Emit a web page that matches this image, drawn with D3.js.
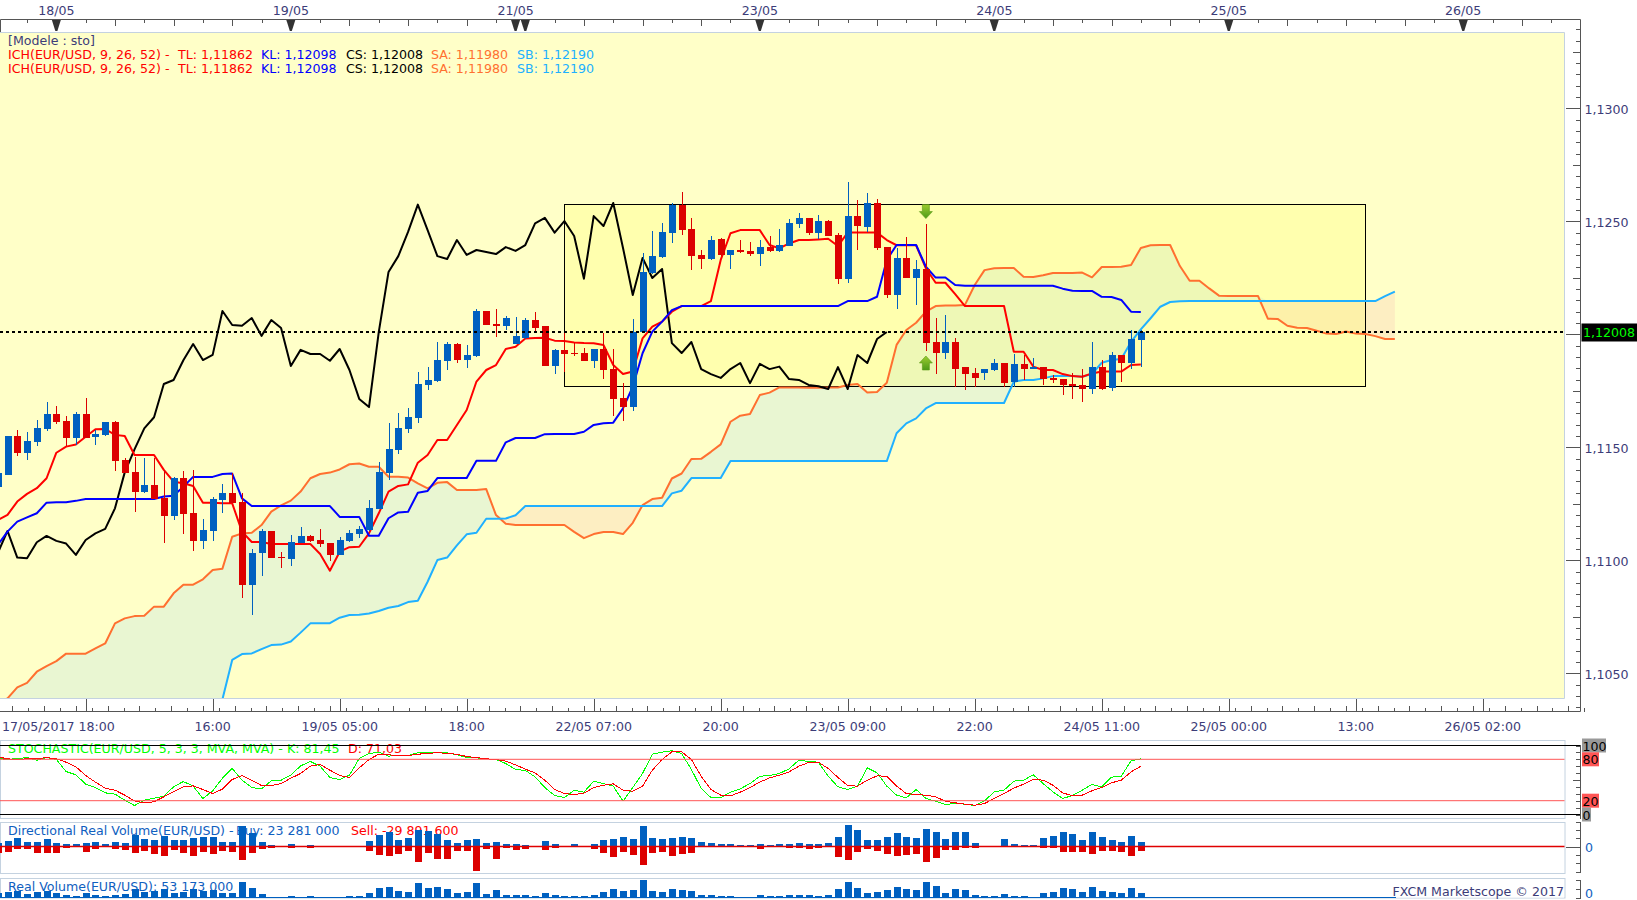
<!DOCTYPE html>
<html><head><meta charset="utf-8">
<script src="https://cdn.jsdelivr.net/npm/d3@7/dist/d3.min.js"></script>
<style>
html,body{margin:0;padding:0;background:#fff;overflow:hidden}
svg{display:block}
text{font-family:"DejaVu Sans",sans-serif;font-size:12.6px}
</style></head><body><svg id="c" width="1637" height="900"></svg>
<script>
// All prices in points (1e-5). Arrays of bars start at bar index -1.
const firstBar = -1;
const opens = [111326,111378,111550,111476,111525,111581,111646,111615,111543,111648,111547,111555,111611,111444,111389,111304,111332,111274,111198,111363,111208,111087,111131,111267,111296,111257,110892,111031,111130,111015,111007,111075,111108,111090,111077,111024,111086,111117,111134,111227,111388,111488,111581,111630,111776,111794,111884,111957,111886,111904,112103,112046,112037,111957,111984,112063,112037,111860,111930,111919,111917,111883,111935,111846,111718,111680,112010,112270,112341,112450,112574,112466,112351,112333,112422,112351,112372,112369,112355,112386,112369,112392,112490,112515,112448,112501,112439,112246,112523,112475,112579,112385,112174,112338,112249,112289,111966,111917,111966,111855,111829,111829,111842,111873,111789,111869,111846,111855,111807,111802,111780,111776,111758,111855,111764,111908,111873,111975];
const highs = [111429,111550,111577,111566,111621,111699,111683,111639,111655,111717,111577,111614,111617,111451,111459,111453,111451,111400,111370,111395,111400,111183,111282,111338,111385,111299,111050,111137,111130,111035,111112,111146,111112,111139,111078,111102,111134,111152,111267,111434,111606,111650,111673,111832,111854,111966,111966,111963,111953,112111,112103,112111,112081,112075,112071,112097,112037,111934,112004,111960,111938,111935,112007,111935,111783,112068,112358,112457,112491,112579,112628,112515,112373,112435,112425,112373,112417,112410,112417,112435,112464,112509,112535,112515,112528,112506,112447,112672,112594,112625,112599,112388,112380,112432,112329,112488,112072,112085,111982,111855,111849,111846,111891,111873,111913,111908,111894,111857,111820,111802,111827,111845,111966,111886,111923,111908,112019,112019];
const lows = [111304,111378,111463,111444,111507,111572,111603,111507,111510,111543,111510,111552,111395,111385,111215,111296,111271,111078,111178,111117,111043,111050,111087,111211,111252,110835,110758,110931,111012,110968,110976,111075,111083,111058,110997,111022,111083,111100,111131,111226,111355,111471,111562,111609,111754,111791,111842,111875,111853,111898,112041,111987,112019,111957,111981,112009,111860,111825,111835,111905,111882,111852,111802,111638,111618,111662,112004,112267,112339,112405,112439,112284,112289,112329,112346,112289,112358,112346,112302,112366,112366,112391,112470,112439,112422,112435,112223,112228,112373,112453,112373,112161,112112,112249,112130,111926,111824,111891,111768,111753,111768,111798,111838,111768,111768,111798,111846,111776,111784,111731,111715,111702,111736,111753,111749,111789,111846,111855];
const closes = [111385,111550,111476,111528,111584,111646,111614,111543,111648,111543,111559,111611,111441,111388,111304,111333,111271,111198,111364,111207,111087,111134,111270,111296,111255,110892,111031,111130,111012,111009,111080,111108,111086,111074,111024,111090,111119,111139,111230,111389,111491,111584,111633,111780,111798,111885,111957,111886,111909,112103,112041,112038,112072,111993,112063,112028,111860,111931,111913,111913,111883,111935,111842,111714,111678,112010,112276,112346,112453,112574,112461,112346,112333,112417,112351,112373,112364,112355,112386,112369,112395,112491,112515,112450,112501,112435,112246,112523,112479,112581,112382,112174,112338,112249,112289,111961,111917,111966,111846,111824,111807,111846,111873,111784,111869,111846,111857,111802,111798,111776,111770,111758,111855,111758,111908,111873,111979,112010];
const tenkan = [111178,111201,111260,111294,111319,111363,111476,111503,111512,111547,111580,111581,111555,111550,111466,111466,111466,111400,111348,111341,111329,111255,111255,111252,111252,111127,111081,111081,111072,111072,111072,111072,111072,111028,110954,111038,111058,111060,111119,111208,111304,111329,111336,111432,111466,111532,111532,111599,111665,111791,111842,111864,111935,111945,111981,111984,111985,111972,111970,111964,111961,111960,111953,111864,111824,111835,111982,112034,112056,112100,112125,112125,112125,112147,112329,112447,112461,112461,112461,112395,112380,112402,112417,112417,112420,112423,112391,112450,112450,112450,112450,112417,112394,112394,112394,112292,112228,112228,112178,112125,112125,112125,112125,112125,111923,111923,111857,111842,111842,111824,111815,111812,111827,111835,111835,111835,111864,111866];
const kijun = [111068,111127,111171,111190,111208,111255,111257,111257,111263,111271,111271,111271,111271,111271,111271,111271,111271,111282,111286,111326,111369,111369,111369,111382,111384,111274,111240,111240,111240,111240,111240,111240,111240,111240,111240,111192,111192,111192,111109,111109,111186,111212,111215,111299,111307,111364,111364,111364,111364,111440,111440,111440,111522,111541,111541,111541,111558,111559,111559,111559,111569,111599,111606,111609,111672,111768,111916,112012,112056,112107,112125,112125,112125,112125,112125,112125,112125,112125,112125,112125,112125,112125,112125,112125,112125,112125,112125,112147,112147,112147,112166,112329,112395,112395,112395,112299,112251,112251,112218,112215,112215,112215,112215,112215,112215,112215,112215,112215,112215,112202,112193,112192,112192,112166,112165,112152,112100,112099];
// Lagging span: bars -1 .. 90
const chikou = [111031,111130,111012,111009,111080,111108,111086,111074,111024,111090,111119,111139,111230,111389,111491,111584,111633,111780,111798,111885,111957,111886,111909,112103,112041,112038,112072,111993,112063,112028,111860,111931,111913,111913,111883,111935,111842,111714,111678,112010,112276,112346,112453,112574,112461,112346,112333,112417,112351,112373,112364,112355,112386,112369,112395,112491,112515,112450,112501,112435,112246,112523,112479,112581,112382,112174,112338,112249,112289,111961,111917,111966,111846,111824,111807,111846,111873,111784,111869,111846,111857,111802,111798,111776,111770,111758,111855,111758,111908,111873,111979,112010];
// Span A: bars -1 .. 142
const spanA = [110360,110389,110438,110458,110507,110532,110554,110587,110587,110587,110610,110632,110721,110743,110753,110755,110795,110795,110854,110892,110892,110916,110957,110963,111104,111119,111122,111156,111215,111243,111264,111304,111363,111382,111388,111402,111425,111428,111414,111414,111370,111370,111366,111340,111318,111343,111346,111311,111311,111311,111315,111200,111162,111156,111156,111156,111156,111156,111156,111126,111098,111116,111125,111125,111116,111166,111244,111271,111277,111362,111384,111448,111449,111480,111513,111613,111640,111647,111731,111742,111765,111765,111765,111764,111764,111765,111765,111776,111780,111742,111745,111786,111953,112019,112051,112100,112125,112127,112127,112130,112218,112284,112292,112293,112293,112255,112254,112261,112271,112271,112271,112273,112252,112298,112298,112299,112307,112382,112394,112395,112395,112302,112237,112237,112203,112171,112169,112169,112169,112169,112069,112068,112038,112029,112028,112016,112003,112001,112012,112003,112001,111992,111979,111979];
// Span B: bars 22 .. 142
const spanBFirst = 22;
const spanB = [110385,110559,110585,110588,110607,110625,110627,110641,110680,110721,110722,110722,110746,110758,110759,110765,110776,110790,110798,110815,110821,110905,111001,111012,111066,111115,111122,111184,111184,111185,111199,111240,111240,111240,111240,111240,111240,111240,111240,111240,111240,111240,111240,111240,111240,111240,111296,111308,111364,111364,111364,111364,111439,111439,111439,111439,111439,111439,111439,111439,111439,111439,111439,111439,111439,111439,111439,111439,111439,111562,111606,111628,111672,111696,111696,111696,111696,111696,111696,111696,111696,111790,111798,111798,111805,111815,111815,111815,111812,111824,111874,111886,111891,111967,112022,112071,112122,112143,112146,112147,112147,112147,112147,112147,112147,112147,112147,112147,112147,112147,112147,112147,112147,112147,112147,112147,112147,112147,112147,112169,112189];
const stochK = [80.7,80.2,80.7,82.6,78.7,82.6,79.7,62.3,57.5,44,39.1,31.4,29.5,20.8,13,20.8,23.7,26.6,40.1,47.8,41.1,23.2,34.3,52.6,66.7,49.7,39.1,37.2,48.8,49.7,57,70.5,76.8,70,53.6,50.7,57,81.1,88.4,90.3,84.5,86,85.5,89.4,90.3,90.3,89.4,86.5,82.6,82.1,80.7,79.7,73.9,65.2,63.8,54.6,39.1,27.5,24.6,35.3,32.4,48.3,44.9,41.1,19.3,39.1,59.4,87.4,90.3,92.3,88.4,65.2,37.7,24.6,24.6,32.4,37.2,44.9,55.5,56.5,59.4,66.2,78.7,76.8,75.8,55.5,40.1,36.2,41.1,67.6,60.4,41.1,28,24.2,36.2,23.2,19.3,14.5,15.9,15,13,19.8,32.8,35.3,48.3,49.7,57.5,44.9,32.8,23.2,27.5,35.3,43.5,40.1,54.1,55.5,77.8,80.7];
const stochD = [83.6,80.7,79.7,80.7,80.7,82.6,80.7,75.8,69.1,56.5,46.9,38.2,35.3,28,19.8,16.9,18.4,25.6,33.3,40.1,41.5,36.2,30.4,36.7,50.7,56.5,49.7,42,42,44.9,52.6,59.4,70,72.5,64.2,56.5,53.6,67.6,79.7,87.4,86.5,85.5,85.5,87.4,88.4,89.8,88.4,87.4,84,82.6,80.7,79.7,77.3,72,65.7,60.4,49.7,36.2,30.4,29,30.9,39.1,42.5,44.4,35.3,33.8,41.1,64.2,79.7,90.8,90.8,79.7,55.5,36.2,28,27,32.4,39.1,46.9,53.1,57,61.8,70,75.3,75.8,66.7,53.6,42,41.1,49.7,56,55.5,41.1,30.4,29,28,25.6,19.3,16.9,15,13.5,15.9,23.2,30.4,38.2,44,51.2,49.7,42.5,31.4,27,28,34.3,39.1,45.9,49.7,61.8,70];
// Volumes in millions
const buyVol = [22,32,50,26,26,44,20,14,14,20,26,14,26,20,68,44,38,62,38,38,50,56,56,26,26,122,80,26,8,6,14,6,8,6,6,6,6,6,32,68,86,38,50,98,92,74,38,20,38,44,20,26,14,14,8,6,32,14,6,14,6,14,38,44,56,44,122,50,44,50,56,50,26,20,14,14,8,8,14,8,14,14,20,14,14,20,56,128,98,38,38,56,80,56,50,104,86,44,86,86,20,6,6,44,14,8,8,50,62,86,74,38,86,56,38,26,62,26];
const sellVol = [40,32,14,12,40,40,40,10,4,34,16,4,16,22,40,28,46,58,22,40,58,34,46,28,34,82,40,16,8,4,8,4,10,4,4,4,4,4,28,52,58,46,28,94,40,76,76,28,28,148,16,76,10,22,16,4,22,10,4,4,4,16,40,64,34,52,112,40,34,58,46,40,4,4,4,4,4,4,16,4,4,10,10,16,10,4,64,82,34,16,28,46,58,52,46,94,70,22,22,10,10,4,4,4,4,4,4,10,10,34,34,34,46,28,28,34,58,28];
const realVol = [53.2,64.6,76,41.8,64.6,76,53.2,30.4,19,53.2,30.4,19,30.4,41.8,98.8,64.6,76,98.8,53.2,64.6,98.8,76,87.4,53.2,53.2,178.6,110.2,41.8,7.6,7.6,19,7.6,19,7.6,7.6,7.6,19,19,53.2,110.2,121.6,76,64.6,167.2,110.2,121.6,98.8,53.2,64.6,167.2,41.8,87.4,30.4,30.4,30.4,19,53.2,30.4,19,19,19,30.4,64.6,98.8,76,87.4,201.4,76,64.6,98.8,87.4,76,30.4,30.4,19,19,7.6,7.6,30.4,19,19,30.4,30.4,30.4,19,30.4,98.8,178.6,110.2,53.2,64.6,87.4,121.6,98.8,87.4,178.6,133,53.2,98.8,87.4,30.4,19,19,41.8,19,19,7.6,53.2,64.6,110.2,98.8,64.6,121.6,76,64.6,53.2,110.2,53.2];
const dayFlags = [[5,"18/05"],[29,"19/05"],[52,"21/05"],[53,""],[77,"23/05"],[101,"24/05"],[125,"25/05"],[149,"26/05"]];
const timeLabels = [[8,"17/05/2017 18:00"],[21,"16:00"],[34,"19/05 05:00"],[47,"18:00"],[60,"22/05 07:00"],[73,"20:00"],[86,"23/05 09:00"],[99,"22:00"],[112,"24/05 11:00"],[125,"25/05 00:00"],[138,"13:00"],[151,"26/05 02:00"]];
const priceLabels = [113000,112500,112000,111500,111000,110500];
const lastPrice = 112008;
const boxBars = [57,139], boxPrices = [111770,112575];
const arrowDown = {bar:94,tip:112512}, arrowUp = {bar:94,tip:111904};
const legendItems = [["ICH(EUR/USD, 9, 26, 52) -","#f00",8],["TL: 1,11862","#f00",178],["KL: 1,12098","#00f",261],["CS: 1,12008","#000",346],["SA: 1,11980","#ff7030",431],["SB: 1,12190","#20b0ff",517]];

const W=1637,H=900,plotR=1564.5,axisX=1580.5,plotT=32.5,plotB=698.5;
const svg=d3.select("#c");
const x=d3.scaleLinear().domain([0,116]).range([7.5,1140.82]);
const y=d3.scaleLinear().domain([111500,112500]).range([447.3,221.3]);
const ink="#3c3c78", pale="#c4d2e0", axC="#555";
const bars=closes.map((c,k)=>({i:k+firstBar,o:opens[k],h:highs[k],l:lows[k],c}));
const defs=svg.append("defs");
function clip(id,x0,y0,w,h){defs.append("clipPath").attr("id",id).append("rect").attr("x",x0).attr("y",y0).attr("width",w).attr("height",h);}
clip("main",0,plotT,plotR,plotB-plotT);
clip("stoch",0,740,plotR,78);
clip("dir",0,822,plotR,52);
clip("vol",0,878,plotR,20);
const gradG=defs.append("linearGradient").attr("id","ag").attr("x1",0).attr("x2",0).attr("y1",0).attr("y2",1);
gradG.append("stop").attr("offset",0).attr("stop-color","#9ccc30");gradG.append("stop").attr("offset",1).attr("stop-color","#4d9a18");

// main background
svg.append("rect").attr("x",0).attr("y",plotT).attr("width",plotR).attr("height",plotB-plotT).attr("fill","#ffffc8");
const m=svg.append("g").attr("clip-path","url(#main)");
// cloud
const cloud=spanA.map((a,k)=>{const i=k-1;const j=i-spanBFirst;return {i,a,b:j>=0?spanB[j]:y.invert(plotB+40)};});
m.append("path").datum(cloud).attr("fill","#e9f6d2").attr("d",d3.area().x(d=>x(d.i)).y0(d=>y(d.b)).y1(d=>y(Math.max(d.a,d.b))));
m.append("path").datum(cloud).attr("fill","#fdeec2").attr("d",d3.area().x(d=>x(d.i)).y0(d=>y(Math.min(d.a,d.b))).y1(d=>y(d.b)));
// box
m.append("rect").attr("x",Math.round(x(boxBars[0]))+.5).attr("y",Math.round(y(boxPrices[1]))+.5).attr("width",Math.round(x(boxBars[1])-x(boxBars[0]))).attr("height",Math.round(y(boxPrices[0])-y(boxPrices[1]))).attr("fill","#ffff50").attr("fill-opacity",.22).attr("stroke","#000").attr("stroke-width",1);
// lines
const lineOf=(first)=>d3.line().x((d,k)=>x(k+first)).y(d=>y(d));
function drawLine(arr,first,col,w){m.append("path").datum(arr).attr("fill","none").attr("stroke",col).attr("stroke-width",w).attr("stroke-linejoin","round").attr("d",lineOf(first));}
drawLine(spanA,-1,"#ff7030",2);
drawLine(spanB,spanBFirst,"#20b0ff",2);
drawLine(chikou,-1,"#000",2);
drawLine(tenkan,-1,"#f00",2);
drawLine(kijun,-1,"#00f",2);
// candles
const cg=m.append("g").attr("shape-rendering","crispEdges");
const red="#dc0000",blue="#0060c0",bw=7;
cg.selectAll("line").data(bars).join("line").attr("x1",d=>Math.round(x(d.i))+.5).attr("x2",d=>Math.round(x(d.i))+.5).attr("y1",d=>y(d.h)).attr("y2",d=>y(d.l)).attr("stroke",d=>d.c>=d.o?blue:red).attr("stroke-width",1);
cg.selectAll("rect").data(bars).join("rect").attr("x",d=>Math.round(x(d.i))+.5-bw/2).attr("width",bw).attr("y",d=>y(Math.max(d.o,d.c))).attr("height",d=>Math.max(1.5,Math.abs(y(d.o)-y(d.c)))).attr("fill",d=>d.c>=d.o?blue:red);
// arrows
function arrow(a,dir){const px=x(a.bar),py=y(a.tip);const g=m.append("g").attr("transform",`translate(${px},${py})`);
 const s=dir; // dir=1 up (tip on top), -1 down (tip at bottom)
 g.append("path").attr("d",`M0,0 L6.5,${7*s} L3.5,${7*s} L3.5,${14*s} L-3.5,${14*s} L-3.5,${7*s} L-6.5,${7*s} Z`).attr("fill","url(#ag)").attr("stroke","#5a9a18").attr("stroke-width",.6);}
arrow(arrowDown,-1);arrow(arrowUp,1);
// last price dotted
svg.append("line").attr("x1",0).attr("x2",plotR).attr("y1",Math.round(y(lastPrice))).attr("y2",Math.round(y(lastPrice))).attr("stroke","#000").attr("stroke-width",2).attr("stroke-dasharray","3 3");
// plot border
svg.append("path").attr("d",`M0,${plotT}H${plotR}V${plotB}H0`).attr("fill","none").attr("stroke",pale).attr("stroke-width",1);
// legend
svg.append("text").attr("x",8).attr("y",45).attr("fill",ink).text("[Modele : sto]");
[59,73].forEach(yy=>{legendItems.forEach(([t,c,xx])=>svg.append("text").attr("x",xx).attr("y",yy).attr("fill",c).text(t));});
// top axis
function strip(g){g.select(".domain").remove();g.selectAll("line").attr("stroke",axC).attr("shape-rendering","crispEdges");g.selectAll("text").remove();}
const topMinor=d3.range(2,163,3),topMajor=d3.range(5,163,6);
svg.append("g").attr("transform","translate(0,19.5)").call(d3.axisBottom(x).tickValues(topMinor).tickSize(3).tickFormat("")).call(strip);
svg.append("g").attr("transform","translate(0,19.5)").call(d3.axisBottom(x).tickValues(topMajor).tickSize(6).tickFormat("")).call(strip);
svg.append("path").attr("d",`M0.5,32V19.5H${axisX}V711.5H0`).attr("fill","none").attr("stroke",axC).attr("stroke-width",1);
const fl=svg.append("g").selectAll("g").data(dayFlags).join("g").attr("transform",d=>`translate(${x(d[0])},20)`);
fl.append("path").attr("d","M-4.5,0H4.5L1,11H-1Z").attr("fill","#333");
fl.append("text").attr("y",-5).attr("text-anchor","middle").attr("fill",ink).text(d=>d[1]);
// bottom axis
const bottomMinor=d3.range(-6,162,13/8);
svg.append("g").attr("transform","translate(0,711.5)").call(d3.axisTop(x).tickValues(bottomMinor.filter((d,k)=>k%2==0)).tickSize(6).tickFormat("")).call(strip);
svg.append("g").attr("transform","translate(0,711.5)").call(d3.axisTop(x).tickValues(bottomMinor.filter((d,k)=>k%2==1)).tickSize(4).tickFormat("")).call(strip);
svg.append("g").attr("transform","translate(0,711.5)").call(d3.axisTop(x).tickValues(timeLabels.map(d=>d[0])).tickSize(13).tickFormat("")).call(strip);
svg.append("g").selectAll("text").data(timeLabels).join("text").attr("x",(d,k)=>k==0?2:x(d[0])).attr("y",731).attr("text-anchor",(d,k)=>k==0?"start":"middle").attr("fill",ink).text(d=>d[1]);
// price axis
const priceMinor=d3.range(110000,113500,50),priceMid=d3.range(110000,113500,250);
const yClip=t=>t.filter(v=>y(v)>20&&y(v)<711);
svg.append("g").attr("transform",`translate(${axisX},0)`).call(d3.axisLeft(y).tickValues(yClip(priceMinor)).tickSize(5).tickFormat("")).call(strip);
svg.append("g").attr("transform",`translate(${axisX},0)`).call(d3.axisLeft(y).tickValues(yClip(priceMid)).tickSize(8).tickFormat("")).call(strip);
svg.append("g").attr("transform",`translate(${axisX},0)`).call(d3.axisLeft(y).tickValues(priceLabels).tickSize(15).tickFormat("")).call(strip);
const fmtP=v=>(v/1e5).toFixed(4).replace(".",",");
svg.append("g").selectAll("text").data(priceLabels.filter(v=>v!=112000)).join("text").attr("x",1584.5).attr("y",d=>y(d)+6).attr("fill",ink).text(fmtP);
svg.append("rect").attr("x",axisX+1).attr("y",y(lastPrice)-9).attr("width",W-axisX).attr("height",18).attr("fill","#000");
svg.append("text").attr("x",1583).attr("y",y(lastPrice)+5).attr("fill","#0f0").text((lastPrice/1e5).toFixed(5).replace(".",","));

// stochastic panel
const ys=d3.scaleLinear().domain([0,100]).range([814.5,745.5]);
svg.append("rect").attr("x",0.5).attr("y",740.5).attr("width",plotR).attr("height",78).attr("fill","#fff").attr("stroke",pale);
svg.append("text").attr("x",8).attr("y",753).attr("fill","#0f0").text("STOCHASTIC(EUR/USD, 5, 3, 3, MVA, MVA) -");
svg.append("text").attr("x",287).attr("y",753).attr("fill","#0f0").text("K: 81,45");
svg.append("text").attr("x",348).attr("y",753).attr("fill","#f00").text("D: 71,03");
const sg=svg.append("g").attr("clip-path","url(#stoch)");
[[100,"#000"],[0,"#000"],[80,"#ff5555"],[20,"#ff5555"]].forEach(([v,c])=>{svg.append("line").attr("x1",0).attr("x2",v==100||v==0?axisX:plotR).attr("y1",ys(v)).attr("y2",ys(v)).attr("stroke",c).attr("stroke-width",1);});
const ls=d3.line().x((d,k)=>x(k+firstBar)).y(d=>ys(d));
sg.append("path").datum(stochK).attr("fill","none").attr("stroke","#0f0").attr("stroke-width",1).attr("shape-rendering","crispEdges").attr("d",ls);
sg.append("path").datum(stochD).attr("fill","none").attr("stroke","#f00").attr("stroke-width",1).attr("shape-rendering","crispEdges").attr("d",ls);
const stochLabels=[[100,"#999",24],[80,"#ff5555",17],[20,"#ff5555",17],[0,"#999",9]];
svg.append("line").attr("x1",axisX).attr("x2",axisX).attr("y1",745).attr("y2",819).attr("stroke",axC);
svg.append("g").attr("transform",`translate(${axisX},0)`).call(d3.axisLeft(ys).tickValues(d3.range(0,101,10)).tickSize(5).tickFormat("")).call(strip);
svg.append("g").attr("transform",`translate(${axisX},0)`).call(d3.axisLeft(ys).tickValues([50]).tickSize(8).tickFormat("")).call(strip);
stochLabels.forEach(([v,c,w])=>{svg.append("rect").attr("x",1582).attr("y",ys(v)-7).attr("width",w).attr("height",14).attr("fill",c);
 svg.append("text").attr("x",1582.5).attr("y",ys(v)+5).attr("fill","#000").text(v);});

// directional volume
const yd=d3.scaleLinear().domain([-150,150]).range([846.5+25,846.5-25]);
svg.append("rect").attr("x",0.5).attr("y",822.5).attr("width",plotR).attr("height",51).attr("fill","#fff").attr("stroke",pale);
svg.append("text").attr("x",8).attr("y",835).attr("fill","#1060c0").text("Directional Real Volume(EUR/USD) -");
svg.append("text").attr("x",236).attr("y",835).attr("fill","#1060c0").text("Buy: 23 281 000");
svg.append("text").attr("x",351).attr("y",835).attr("fill","#f00").text("Sell: -29 891 600");
const dg=svg.append("g").attr("clip-path","url(#dir)").attr("shape-rendering","crispEdges");
const bx=i=>Math.round(x(i))+.5-bw/2;
dg.selectAll("rect.b").data(buyVol).join("rect").attr("class","b").attr("x",(d,k)=>bx(k+firstBar)).attr("width",bw).attr("y",d=>yd(d)).attr("height",d=>yd(0)-yd(d)).attr("fill",blue);
dg.selectAll("rect.s").data(sellVol).join("rect").attr("class","s").attr("x",(d,k)=>bx(k+firstBar)).attr("width",bw).attr("y",yd(0)).attr("height",d=>yd(0)-yd(d)).attr("fill",red);
svg.append("line").attr("x1",0).attr("x2",plotR).attr("y1",yd(0)).attr("y2",yd(0)).attr("stroke","#e00000").attr("stroke-width",1.3);
svg.append("line").attr("x1",axisX).attr("x2",axisX).attr("y1",823).attr("y2",873).attr("stroke",axC);
svg.append("g").attr("transform",`translate(${axisX},0)`).call(d3.axisLeft(yd).tickValues([-150,-100,-50,50,100,150]).tickSize(5).tickFormat("")).call(strip);
svg.append("g").attr("transform",`translate(${axisX},0)`).call(d3.axisLeft(yd).tickValues([0]).tickSize(15).tickFormat("")).call(strip);
svg.append("text").attr("x",1585).attr("y",yd(0)+5).attr("fill","#1060c0").text("0");

// real volume
const yv=d3.scaleLinear().domain([0,200]).range([897.7,897.7-17.6]);
svg.append("rect").attr("x",0.5).attr("y",878.5).attr("width",plotR).attr("height",19.5).attr("fill","#fff").attr("stroke",pale);
svg.append("text").attr("x",8).attr("y",891).attr("fill","#1060c0").text("Real Volume(EUR/USD): 53 173 000");
const vg=svg.append("g").attr("clip-path","url(#vol)").attr("shape-rendering","crispEdges");
vg.selectAll("rect").data(realVol).join("rect").attr("x",(d,k)=>bx(k+firstBar)).attr("width",bw).attr("y",d=>yv(d)).attr("height",d=>yv(0)-yv(d)).attr("fill",blue);
svg.append("line").attr("x1",0).attr("x2",1396).attr("y1",897.5).attr("y2",897.5).attr("stroke",blue);
svg.append("rect").attr("x",1396).attr("y",883).attr("width",168).attr("height",14.5).attr("fill","#fff");
svg.append("text").attr("x",1564).attr("y",896).attr("text-anchor","end").attr("fill",ink).text("FXCM Marketscope © 2017");
svg.append("line").attr("x1",axisX).attr("x2",axisX).attr("y1",880).attr("y2",898).attr("stroke",axC);
svg.append("g").attr("transform",`translate(${axisX},0)`).call(d3.axisLeft(yv).tickValues([0,100,200]).tickSize(5).tickFormat("")).call(strip);
svg.append("text").attr("x",1585).attr("y",898).attr("fill","#1060c0").text("0");
</script></body></html>
